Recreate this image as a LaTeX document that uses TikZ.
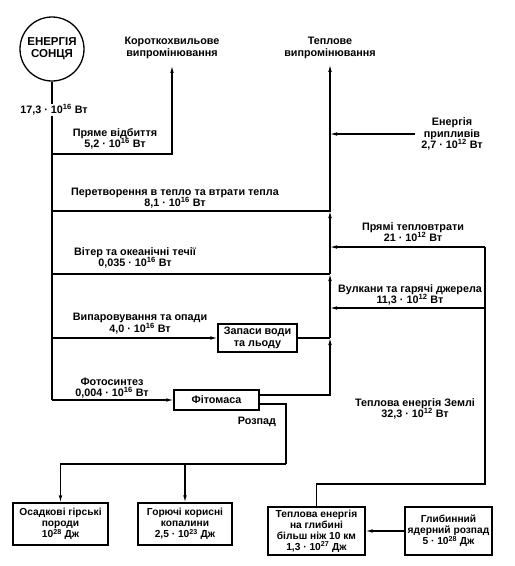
\documentclass[tikz,border=0pt]{standalone}
\usepackage{fontspec}
\setmainfont{Liberation Sans}
\usetikzlibrary{arrows.meta}
\newcommand\tpw[1]{10\textsuperscript{#1}}
\begin{document}
\begin{tikzpicture}[x=1pt,y=-1pt,
  every node/.style={font=\bfseries\fontsize{10.8}{11.5}\selectfont, align=center, inner sep=1pt},
  box/.style={draw, line width=1.2pt, inner sep=1pt},
  smallbox/.style={box, font=\bfseries\fontsize{10.2}{11}\selectfont},
  ln/.style={line width=1.1pt},
  arr/.style={ln, -{Latex[length=7pt,width=3.6pt]}}]
\useasboundingbox[fill=white] (0,0) rectangle (515,566);

% nodes
\node[circle, draw, line width=1.3pt, minimum size=64pt, inner sep=0pt, font=\bfseries\fontsize{11.5}{12}\selectfont] (sun) at (52,49) {ЕНЕРГІЯ\\СОНЦЯ};
\node (sw) at (172,48) {Короткохвильове\\випромінювання};
\node (th) at (330,48) {Теплове\\випромінювання};
\node (tide) at (452,134) {Енергія\\припливів\\2,7 · \tpw{12} Вт};

\node[box, minimum width=79pt, minimum height=28pt] (water) at (257.5,338) {Запаси води\\та льоду};
\node[box, minimum width=85pt, minimum height=20pt] (phyto) at (216.5,400) {Фітомаса};
\node[smallbox, minimum width=95pt, minimum height=42pt] (sed) at (60.5,524) {Осадкові гірські\\породи\\\tpw{28} Дж};
\node[smallbox, minimum width=94pt, minimum height=42pt] (fuel) at (185,524) {Горючі корисні\\копалини\\2,5 · \tpw{23} Дж};
\node[smallbox, minimum width=97pt, minimum height=48pt] (deep) at (316.5,531) {Теплова енергія\\на глибині\\більш ніж 10 км\\1,3 · \tpw{27} Дж};
\node[smallbox, minimum width=87pt, minimum height=48pt] (nuc) at (448.5,531) {Глибинний\\ядерний розпад\\5 · \tpw{28} Дж};

% labels
\node (lpr) at (115,139) {Пряме відбиття\\5,2 · \tpw{16} Вт};
\node (lper) at (175,198) {Перетворення в тепло та втрати тепла\\8,1 · \tpw{16} Вт};
\node (lvit) at (135,258) {Вітер та океанічні течії\\0,035 · \tpw{16} Вт};
\node (lvyp) at (140,323.5) {Випаровування та опади\\4,0 · \tpw{16} Вт};
\node (lfot) at (112,388) {Фотосинтез\\0,004 · \tpw{16} Вт};
\node (lroz) at (257,422) {Розпад};
\node (lpt) at (413,232) {Прямі тепловтрати\\21 · \tpw{12} Вт};
\node (lvul) at (410,295) {Вулкани та гарячі джерела\\11,3 · \tpw{12} Вт};
\node (lzem) at (415,409) {Теплова енергія Землі\\32,3 · \tpw{12} Вт};

% junctions
\coordinate (t1) at (52,154);
\coordinate (t2) at (52,211);
\coordinate (t3) at (52,274);
\coordinate (t4) at (52,338);
\coordinate (t5) at (52,400);
\coordinate (j2) at (330,211);
\coordinate (j3) at (330,274);
\coordinate (j4) at (330,338);
\coordinate (dj) at (286,464);
\coordinate (r1) at (485,247);
\coordinate (r2) at (485,308);
\coordinate (r3) at (485,484);

% trunk
\draw[ln] (sun.south) -- (t5);
\node[fill=white, inner sep=1pt] (l17) at (54,110) {17,3 · \tpw{16} Вт};

% branches
\draw[arr] (t1) -| ([yshift=-6pt]sw.south);
\draw[arr] (t2) -| ([yshift=-5pt]th.south);
\draw[ln] (t3) -- (j3);
\draw[arr] (j3) -- (j2);
\draw[arr] (t4) -- (water.west);
\draw[ln] (water.east) -- (j4);
\draw[arr] (j4) -- (j3);
\draw[arr] (t5) -- (phyto.west);
\draw[arr] ([yshift=5pt]phyto.east) -| (j4);
\draw[ln] ([yshift=-4pt]phyto.east) -| (dj);
\draw[arr] (dj) -| (sed.north);
\draw[arr] (dj -| fuel.north) -- (fuel.north);

% right side
\draw[arr] ([xshift=-5pt]tide.west) -- (tide.west -| j2);
\draw[arr] (r1) -- (r1 -| j2);
\draw[arr] (r2) -- (r2 -| j2);
\draw[ln] (deep.north) |- (r3) -- (r1);
\draw[arr] (nuc.west) -- (deep.east);
\end{tikzpicture}
\end{document}
